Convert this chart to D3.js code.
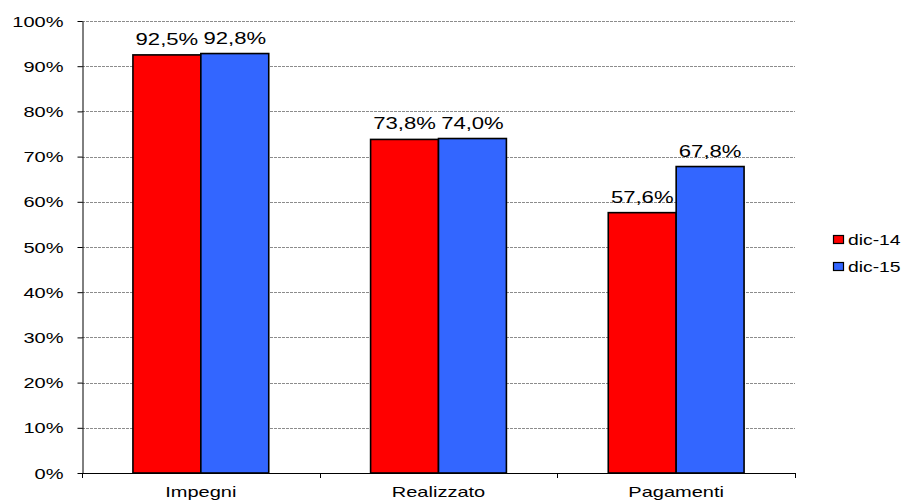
<!DOCTYPE html>
<html>
<head>
<meta charset="utf-8">
<script src="https://cdn.jsdelivr.net/npm/d3@7"></script>
<style>
  body { margin: 0; background: #fff; }
  text { font-family: "Liberation Sans", Arial, sans-serif; fill: #000; }
</style>
</head>
<body>
<script>
// chart values
const categories = ["Impegni", "Realizzato", "Pagamenti"];
const series = ["dic-14", "dic-15"];
const dic14 = [0.925, 0.738, 0.576];
const dic15 = [0.928, 0.740, 0.678];
const colors = ["#FF0000", "#3366FF"];
const yTicks = [0, 0.1, 0.2, 0.3, 0.4, 0.5, 0.6, 0.7, 0.8, 0.9, 1];

const values = [dic14, dic15];
const sx = 1.38; // the picture's text is stretched sideways

function init() {
  const svg = d3.select("body").append("svg")
    .attr("width", 903)
    .attr("height", 503);

  const x0 = d3.scaleBand()
    .domain(categories)
    .range([82, 795])
    .padding(0);

  const x1 = d3.scaleBand()
    .domain(series)
    .range([0, x0.bandwidth()])
    .paddingInner(0)
    .paddingOuter(0.75);

  const y = d3.scaleLinear()
    .domain([0, 1])
    .range([473, 21]);

  const fmt = d3.format(".0%");
  const fmtVal = v => d3.format(".1f")(v * 100).replace(".", ",") + "%";

  // grid lines
  svg.append("g")
    .selectAll("line")
    .data(yTicks.filter(d => d > 0))
    .join("line")
    .attr("x1", 82)
    .attr("x2", 795)
    .attr("y1", d => Math.round(y(d)) + 0.5)
    .attr("y2", d => Math.round(y(d)) + 0.5)
    .attr("stroke", "#8c8c8c")
    .attr("stroke-dasharray", "3,1");

  // y axis
  const yAxis = svg.append("g")
    .attr("transform", "translate(82.5,0)")
    .call(d3.axisLeft(y).tickValues(yTicks).tickFormat(fmt).tickSize(5).tickSizeOuter(0));
  yAxis.select(".domain").attr("stroke", "#000");
  yAxis.selectAll(".tick line").attr("stroke", "#000");
  yAxis.selectAll(".tick text")
    .attr("x", 0)
    .attr("dy", null)
    .attr("y", 5)
    .attr("font-size", 14.5)
    .attr("transform", `translate(-19,0) scale(${sx},1)`);

  // x axis line and boundary ticks
  svg.append("line")
    .attr("x1", 82)
    .attr("x2", 795)
    .attr("y1", 473.5)
    .attr("y2", 473.5)
    .attr("stroke", "#000");

  const bounds = categories.map(c => x0(c) + x0.bandwidth()).concat([x0.range()[0]]);
  svg.append("g")
    .selectAll("line")
    .data(bounds)
    .join("line")
    .attr("x1", d => Math.round(d) + 0.5)
    .attr("x2", d => Math.round(d) + 0.5)
    .attr("y1", 473)
    .attr("y2", 478)
    .attr("stroke", "#000");

  svg.append("g")
    .selectAll("text")
    .data(categories)
    .join("text")
    .attr("text-anchor", "middle")
    .attr("font-size", 14.5)
    .attr("transform", d => `translate(${x0(d) + x0.bandwidth() / 2},497) scale(${sx},1)`)
    .text(d => d);

  // bars
  series.forEach((s, i) => {
    const g = svg.append("g");
    g.selectAll("rect")
      .data(categories)
      .join("rect")
      .attr("x", d => x0(d) + x1(s))
      .attr("y", (d, j) => y(values[i][j]))
      .attr("width", x1.bandwidth())
      .attr("height", (d, j) => y(0) - y(values[i][j]))
      .attr("fill", colors[i])
      .attr("stroke", "#000")
      .attr("stroke-width", 1.6);

    g.selectAll("text")
      .data(categories)
      .join("text")
      .attr("text-anchor", "middle")
      .attr("font-size", 16)
      .attr("transform", (d, j) =>
        `translate(${x0(d) + x1(s) + x1.bandwidth() / 2},${y(values[i][j]) - 10}) scale(${sx},1)`)
      .text((d, j) => fmtVal(values[i][j]));
  });

  // legend
  const legend = svg.append("g")
    .selectAll("g")
    .data(series)
    .join("g")
    .attr("transform", (d, i) => `translate(833,${240 + i * 27})`);

  legend.append("rect")
    .attr("x", 0.5)
    .attr("y", -4.5)
    .attr("width", 10)
    .attr("height", 8)
    .attr("fill", (d, i) => colors[i])
    .attr("stroke", "#000")
    .attr("stroke-width", 1.2);

  legend.append("text")
    .attr("transform", `translate(15,5) scale(${sx},1)`)
    .attr("font-size", 14)
    .text(d => d);
}

init();
</script>
</body>
</html>
